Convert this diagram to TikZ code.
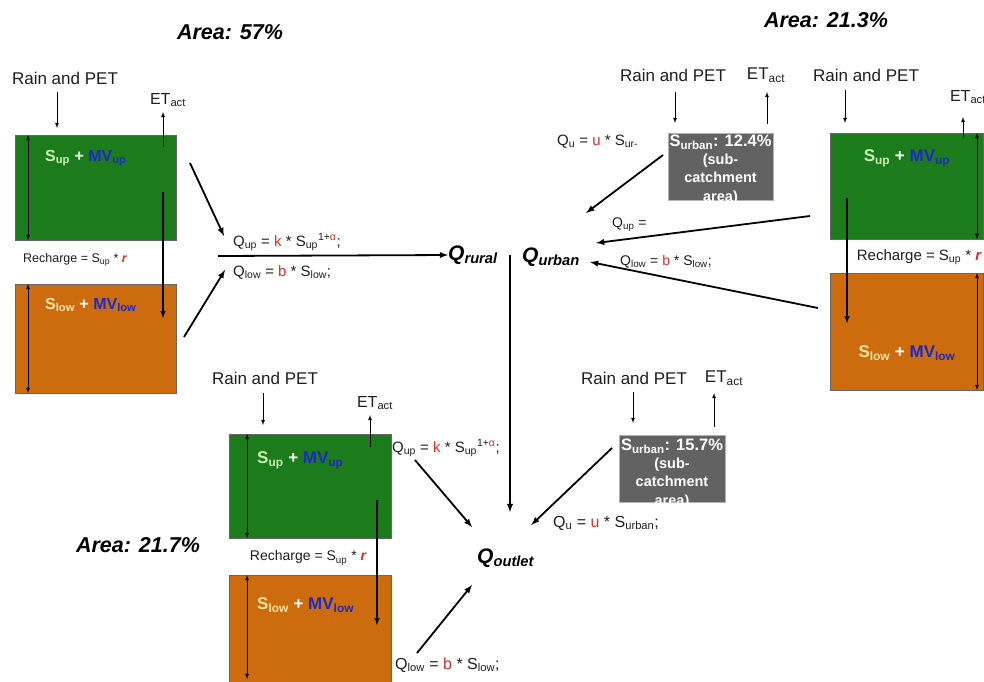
\documentclass[tikz,border=0pt]{standalone}
\usepackage{fontspec}
\setmainfont{Liberation Sans}
\usetikzlibrary{arrows, positioning}

\definecolor{upgreen}{RGB}{28,124,28}
\definecolor{loworange}{RGB}{204,108,14}
\definecolor{urbgray}{RGB}{98,98,98}
\definecolor{qred}{RGB}{222,42,42}
\definecolor{mvblue}{RGB}{30,42,196}
\definecolor{supcol}{RGB}{200,242,180}
\definecolor{slowcol}{RGB}{255,228,164}
\definecolor{txt}{RGB}{30,30,30}

\newcommand{\fs}[1]{\fontsize{#1}{#1}\selectfont}
\newcommand{\upstore}{\textcolor{supcol}{S\textsubscript{up}} + \textcolor{mvblue}{MV\textsubscript{up}}}
\newcommand{\lowstore}{\textcolor{slowcol}{S\textsubscript{low}} + \textcolor{mvblue}{MV\textsubscript{low}}}
\newcommand{\recharge}{Recharge = S\textsubscript{up} * \textcolor{qred}{\bfseries\itshape r}}
\newcommand{\qup}{Q\textsubscript{up} = \textcolor{qred}{k} * S\textsubscript{up}\textsuperscript{1+\textcolor{qred}{α}};}
\newcommand{\qlow}{Q\textsubscript{low} = \textcolor{qred}{b} * S\textsubscript{low};}

\tikzset{
  store/.style={rectangle, draw=black!60, line width=0.6pt, inner sep=0pt, outer sep=0pt, anchor=north west},
  upper/.style={store, fill=upgreen},
  lower/.style={store, fill=loworange},
  urbanbox/.style={store, fill=urbgray, draw=black!30},
  urbantxt/.style={text=white, inner sep=0pt, anchor=north, align=center, font=\bfseries\fontsize{14.5}{16.5}\selectfont},
  lbl/.style={text=txt, inner sep=0pt, font=\fs{17}},
  formula/.style={text=txt, inner sep=0pt, anchor=west, font=\fs{15}},
  boxtxt/.style={text=white, inner sep=0pt, font=\bfseries\fs{17}},
  area/.style={text=black, inner sep=0pt, font=\bfseries\itshape\fs{21.5}},
  qnode/.style={text=black, inner sep=0pt, anchor=west, font=\bfseries\itshape\fs{21}},
  thinflow/.style={->, line width=0.8pt},
  spanarrow/.style={<->, line width=0.8pt},
  rechargeflow/.style={->, line width=1.4pt},
  flux/.style={->, line width=1.8pt}
}

\begin{document}
\begin{tikzpicture}[x=1pt, y=-1pt, >=latex]
  \useasboundingbox (0,0) rectangle (984,681);
  \clip (0,0) rectangle (984,681);

  % rural, 57%
  \node[area] (areaA) at (230,32) {Area: 57\%};
  \node[upper, minimum width=161pt, minimum height=105pt] (upA) at (15,135) {};
  \node[lower, minimum width=161pt, minimum height=109pt] (lowA) at (15,284) {};
  \node[boxtxt, anchor=west, font=\bfseries\fs{16}] (supA) at (45,158) {\upstore};
  \node[boxtxt, anchor=west, font=\bfseries\fs{16}] (slowA) at (45,305) {\lowstore};
  \node[lbl] (rainA) at (65,78) {Rain and PET};
  \node[lbl, font=\fs{16}] (etA) at (168,100) {ET\textsubscript{act}};
  \node[lbl, font=\fs{12.5}] (rechA) at (75,260) {\recharge};
  \node[formula] (qupA) at (233,242) {\qup};
  \node[formula] (qlowA) at (233,272) {\qlow};
  \coordinate (splitA) at (218,256);
  \draw[thinflow] ([shift={(42,-43)}]upA.north west) -- ([shift={(42,-7)}]upA.north west);
  \draw[thinflow] ([shift={(-13,12)}]upA.north east) -- ([shift={(-13,-23)}]upA.north east);
  \draw[spanarrow] ([xshift=13pt]upA.north west) -- ([xshift=13pt]upA.south west);
  \draw[spanarrow] ([xshift=13pt]lowA.north west) -- ([xshift=13pt]lowA.south west);
  \draw[rechargeflow] ([shift={(-13,57)}]upA.north east) -- ([shift={(-13,34)}]lowA.north east);
  \draw[flux] ([shift={(14,28)}]upA.north east) -- ([shift={(-9,-6)}]qupA.west);
  \draw[flux] ([shift={(8,53)}]lowA.north east) -- ([shift={(-8,-2)}]qlowA.west);

  % outlets
  \node[qnode] (Qrural) at (448,255) {Q\textsubscript{rural}};
  \node[qnode] (Qurban) at (522,257) {Q\textsubscript{urban}};
  \node[qnode] (Qoutlet) at (477,558) {Q\textsubscript{outlet}};
  \coordinate (mix) at (510,255);
  \draw[flux] (splitA) -- (Qrural.west);
  \draw[flux] (mix) -- ([shift={(33,-46)}]Qoutlet.west);

  % urban, 12.4%
  \node[urbanbox, minimum width=105pt, minimum height=67pt] (urbA) at (668,133) {};
  \node[urbantxt] (urbtxtA) at ([yshift=-2pt]urbA.north)
    {{\fs{16.5}S\textsubscript{urban}: 12.4\%}\\[1pt](sub-\\[2pt]catchment\\[2pt]area)};
  \node[lbl] (rainU) at (673,75) {Rain and PET};
  \node[lbl] (etU) at (766,75) {ET\textsubscript{act}};
  \node[formula, font=\fs{15}] (quA) at (557,142) {Q\textsubscript{u} = \textcolor{qred}{u} * S\textsubscript{ur-}};
  \node[formula, font=\fs{14}] (qupB) at (612,225) {Q\textsubscript{up} =};
  \node[formula, font=\fs{14}] (qlowB) at (620,262) {\qlow};
  \draw[thinflow] ([shift={(7,-41)}]urbA.north west) -- ([shift={(7,-10)}]urbA.north west);
  \draw[thinflow] ([shift={(-6,-9)}]urbA.north east) -- ([shift={(-6,-41)}]urbA.north east);
  \draw[flux] ([shift={(-5,22)}]urbA.north west) -- ([shift={(6,-44)}]Qurban.east);

  % rural, 21.3%
  \node[area] (areaB) at (826,20) {Area: 21.3\%};
  \node[upper, minimum width=153pt, minimum height=106pt] (upB) at (830,133) {};
  \node[lower, minimum width=153pt, minimum height=117pt] (lowB) at (830,273) {};
  \node[boxtxt] (supB) at (907,158) {\upstore};
  \node[boxtxt] (slowB) at (907,353) {\lowstore};
  \node[lbl] (rainB) at (866,75) {Rain and PET};
  \node[lbl, font=\fs{16}] (etB) at (968,97) {ET\textsubscript{act}};
  \node[lbl, font=\fs{15}] (rechB) at (919,257) {\recharge};
  \draw[thinflow] ([shift={(15,-43)}]upB.north west) -- ([shift={(15,-10)}]upB.north west);
  \draw[thinflow] ([shift={(-20,5)}]upB.north east) -- ([shift={(-20,-16)}]upB.north east);
  \draw[spanarrow] ([xshift=-6pt]upB.north east) -- ([xshift=-6pt]upB.south east);
  \draw[spanarrow] ([xshift=-6pt]lowB.north east) -- ([xshift=-6pt]lowB.south east);
  \draw[rechargeflow] ([shift={(17,65)}]upB.north west) -- ([shift={(17,50)}]lowB.north west);
  \draw[flux] ([shift={(-20,83)}]upB.north west) -- ([shift={(16,-14)}]Qurban.east);
  \draw[flux] ([shift={(-12,35)}]lowB.north west) -- ([shift={(10,5)}]Qurban.east);

  % rural, 21.7%
  \node[area] (areaC) at (138,545) {Area: 21.7\%};
  \node[upper, minimum width=162pt, minimum height=104pt] (upC) at (229,434) {};
  \node[lower, minimum width=162pt, minimum height=120pt] (lowC) at (229,575) {};
  \node[boxtxt, anchor=west] (supC) at (257,460) {\upstore};
  \node[boxtxt, anchor=west] (slowC) at (257,605) {\lowstore};
  \node[lbl] (rainC) at (265,378) {Rain and PET};
  \node[lbl, font=\fs{16}] (etC) at (375,403) {ET\textsubscript{act}};
  \node[lbl, font=\fs{14}] (rechC) at (308,558) {\recharge};
  \node[formula] (qupC) at (392,448) {\qup};
  \node[formula, font=\fs{16}] (qlowC) at (395,665) {\qlow};
  \draw[thinflow] ([shift={(34,-41)}]upC.north west) -- ([shift={(34,-9)}]upC.north west);
  \draw[thinflow] ([shift={(-21,13)}]upC.north east) -- ([shift={(-21,-19)}]upC.north east);
  \draw[spanarrow] ([xshift=18pt]upC.north west) -- ([xshift=18pt]upC.south west);
  \draw[spanarrow] ([xshift=18pt]lowC.north west) -- ([shift={(18,104)}]lowC.north west);
  \draw[rechargeflow] ([shift={(-14,66)}]upC.north east) -- ([shift={(-14,50)}]lowC.north east);
  \draw[flux] ([shift={(23,12)}]qupC.west) -- ([shift={(-5,-31)}]Qoutlet.west);
  \draw[flux] ([shift={(22,-12)}]qlowC.west) -- ([shift={(-5,27)}]Qoutlet.west);

  % urban, 15.7%
  \node[urbanbox, minimum width=106pt, minimum height=67pt] (urbB) at (619,435) {};
  \node[urbantxt] (urbtxtB) at ([yshift=-4pt]urbB.north)
    {{\fs{16.5}S\textsubscript{urban}: 15.7\%}\\[1pt](sub-\\[2pt]catchment\\[2pt]area)};
  \node[lbl] (rainV) at (634,378) {Rain and PET};
  \node[lbl] (etV) at (724,378) {ET\textsubscript{act}};
  \node[formula, font=\fs{16}] (quB) at (553,523) {Q\textsubscript{u} = \textcolor{qred}{u} * S\textsubscript{urban};};
  \draw[thinflow] ([shift={(14,-43)}]urbB.north west) -- ([shift={(14,-12)}]urbB.north west);
  \draw[thinflow] ([shift={(-11,-8)}]urbB.north east) -- ([shift={(-11,-42)}]urbB.north east);
  \draw[flux] ([shift={(-7,13)}]urbB.north west) -- ([shift={(-3,-33)}]Qoutlet.east);
\end{tikzpicture}
\end{document}
